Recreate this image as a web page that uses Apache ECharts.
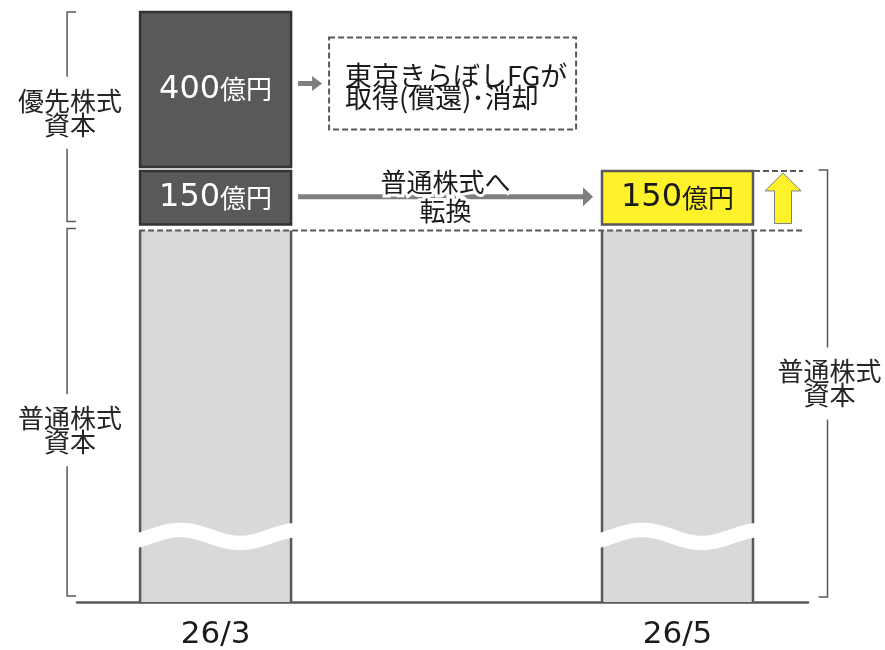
<!DOCTYPE html>
<html><head><meta charset="utf-8">
<script src="https://cdn.jsdelivr.net/npm/echarts@6/dist/echarts.min.js"></script>
<style>html,body{margin:0;padding:0;background:#fff}#c{width:885px;height:650px}</style>
</head><body><div id="c"></div>
<script>
// ---- data (億円) ----
const categories = ['26/3', '26/5'];
const commonStock = [935, 935];          // 普通株式資本 (axis broken, symbolic height)
const preferredConverted = [150, 0];     // 優先株式 → 普通株式へ転換
const convertedCommon = [0, 150];        // 転換後の普通株式
const preferredRedeemed = [400, 0];      // 東京きらぼしFGが取得(償還)・消却
const breakValue = 165;                  // where the wavy break crosses the common stock bar

// ---- build stacked segments ----
const order = [
  { key: 'common', name: '普通株式資本', values: commonStock },
  { key: 'pref150', name: '優先株式(転換)', values: preferredConverted },
  { key: 'conv', name: '普通株式へ転換', values: convertedCommon },
  { key: 'pref400', name: '優先株式(取得・消却)', values: preferredRedeemed }
];
const bases = categories.map(() => 0);
const segData = {};
order.forEach(s => {
  segData[s.key] = [];
  s.values.forEach((v, i) => {
    if (v > 0) { segData[s.key].push([i, bases[i], bases[i] + v, v]); bases[i] += v; }
  });
});
const yMax = Math.max(...bases);

const BAR_W = 151;
const HALF = (BAR_W + 2) / 2;
const CJK = "'Noto Sans CJK JP', sans-serif";
const styles = {
  common: { fill: '#d9d9d9', stroke: '#595959' },
  pref150: { fill: '#595959', stroke: '#333333', text: '#ffffff', gap: 6 },
  conv: { fill: '#fff22a', stroke: '#595959', text: '#1a1a1a', gap: 6 },
  pref400: { fill: '#595959', stroke: '#333333', text: '#ffffff', gap: 4 }
};

function barRenderer(key) {
  const st = styles[key];
  return function (params, api) {
    const ci = api.value(0), lo = api.value(1), hi = api.value(2), v = api.value(3);
    const pLo = api.coord([ci, lo]), pHi = api.coord([ci, hi]);
    const gap = lo > 0 ? st.gap : 0;
    const x = pLo[0] - BAR_W / 2, y = pHi[1], h = pLo[1] - pHi[1] - gap;
    const children = [];
    if (key === 'common') {
      children.push({ type: 'rect', shape: { x, y, width: BAR_W, height: h }, style: { fill: st.fill } });
      children.push({ type: 'polyline', shape: { points: [[x, y], [x, y + h]] }, style: { stroke: st.stroke, lineWidth: 2.5 } });
      children.push({ type: 'polyline', shape: { points: [[x + BAR_W, y], [x + BAR_W, y + h]] }, style: { stroke: st.stroke, lineWidth: 2.5 } });
      // wavy break
      const c = api.coord([ci, breakValue])[1];
      const L = pLo[0] - HALF, W = BAR_W + 2;
      const pts = [];
      for (let t = -0.04; t <= 1.041; t += 0.02) {
        pts.push([L + t * W, c - 6.5 * Math.sin(2 * Math.PI * (t - 0.075) / 0.78)]);
      }
      children.push({ type: 'polyline', shape: { points: pts }, style: { stroke: '#ffffff', lineWidth: 14.5, fill: null } });
    } else {
      children.push({ type: 'rect', shape: { x, y, width: BAR_W, height: h }, style: { fill: st.fill, stroke: st.stroke, lineWidth: 2.5 } });
      children.push({
        type: 'text', x: pLo[0], y: y + h / 2,
        style: {
          text: '{n|' + v + '}{c|億円}', align: 'center', verticalAlign: 'middle',
          rich: {
            n: { fontFamily: 'DejaVu Sans', fontSize: 32, fill: st.text, verticalAlign: 'middle' },
            c: { fontFamily: CJK, fontSize: 26, fill: st.text, verticalAlign: 'middle' }
          }
        }
      });
    }
    return { type: 'group', children };
  };
}

function hArrow(xa, xb, y, shaft, headL, headH, color) {
  const s = shaft / 2, h = headH / 2;
  return {
    type: 'polygon',
    shape: { points: [[xa, y - s], [xb - headL, y - s], [xb - headL, y - h], [xb, y], [xb - headL, y + h], [xb - headL, y + s], [xa, y + s]] },
    style: { fill: color }
  };
}
function bracket(x, y0, y1, dir) {
  return { type: 'polyline', shape: { points: [[x + 9 * dir, y0], [x, y0], [x, y1], [x + 9 * dir, y1]] }, style: { stroke: '#595959', lineWidth: 1.5, fill: null } };
}
function label(text, x, y) {
  return {
    type: 'text', x, y,
    style: { text, fontFamily: CJK, fontSize: 26, lineHeight: 24, fill: '#262626', align: 'center', verticalAlign: 'middle', backgroundColor: '#ffffff', padding: [12, 0] }
  };
}

function renderAnnotations(params, api) {
  const x0 = api.coord([0, 0])[0], x1 = api.coord([1, 0])[0];
  const yBase = api.coord([0, 0])[1];
  const yC0 = api.coord([0, commonStock[0]])[1];
  const yP150 = api.coord([0, commonStock[0] + preferredConverted[0]])[1];
  const yTop0 = api.coord([0, commonStock[0] + preferredConverted[0] + preferredRedeemed[0]])[1];
  const yTop1 = api.coord([1, commonStock[1] + convertedCommon[1]])[1];
  const b0L = x0 - HALF, b0R = x0 + HALF, b1L = x1 - HALF, b1R = x1 + HALF;
  const grey = '#7f7f7f';
  const children = [];
  // dashed reference lines
  children.push({ type: 'polyline', shape: { points: [[b0L, yC0], [b1R + 49, yC0]] }, style: { stroke: '#595959', lineWidth: 2, lineDash: [6, 3], fill: null } });
  children.push({ type: 'polyline', shape: { points: [[b1R, yTop1], [b1R + 49, yTop1]] }, style: { stroke: '#595959', lineWidth: 2, lineDash: [6, 3], fill: null } });
  // brackets
  const lx = b0L - 72;
  children.push(bracket(lx, yTop0, yC0 - 9, 1));
  children.push(label('優先株式\n資本', lx + 3, (yTop0 + yC0 - 9) / 2 - 4));
  children.push(bracket(lx, yC0 - 2, yBase - 6, 1));
  children.push(label('普通株式\n資本', lx + 3, (yC0 - 2 + yBase - 6) / 2 + 18));
  const rx = b1R + 73.5;
  children.push(bracket(rx, yTop1 - 1, yBase - 5, -1));
  children.push(label('普通株式\n資本', rx + 2, (yTop1 - 1 + yBase - 5) / 2));
  // redemption box + arrow
  const boxCy = (yTop0 + yP150) / 2 - 8;
  const boxL = b0R + 37, boxW = 247, boxH = 92;
  children.push(hArrow(b0R + 6, boxL - 7, boxCy, 5, 10, 15, grey));
  children.push({ type: 'rect', shape: { x: boxL, y: boxCy - boxH / 2, width: boxW, height: boxH }, style: { fill: null, stroke: '#595959', lineWidth: 2, lineDash: [6, 3] } });
  children.push({
    type: 'text', x: boxL + 16, y: boxCy + 3,
    style: { text: '東京きらぼしFGが\n取得(償還)･消却', fontFamily: CJK, fontSize: 27, lineHeight: 22, fill: '#1a1a1a', align: 'left', verticalAlign: 'middle' }
  });
  // conversion arrow
  const yConv = (yP150 + yC0 - 6) / 2 - 1;
  children.push(hArrow(b0R + 6, b1L - 8, yConv, 5, 10, 19, grey));
  children.push({
    type: 'text', x: (b0R + 6 + b1L - 8) / 2, y: yConv,
    style: { text: '普通株式へ\n転換', fontFamily: CJK, fontSize: 26, lineHeight: 29, fill: '#1a1a1a', stroke: '#ffffff', lineWidth: 6, align: 'center', verticalAlign: 'middle' }
  });
  // yellow up arrow
  const ax = x1 + 105.5, aTop = yTop1 + 2, aBot = yC0 - 7, hw = 18, sw = 8.5, hh = 18;
  children.push({
    type: 'polygon',
    shape: { points: [[ax, aTop], [ax + hw, aTop + hh], [ax + sw, aTop + hh], [ax + sw, aBot], [ax - sw, aBot], [ax - sw, aTop + hh], [ax - hw, aTop + hh]] },
    style: { fill: '#fff22a', stroke: grey, lineWidth: 1 }
  });
  return { type: 'group', children };
}

const chart = echarts.init(document.getElementById('c'), null, { renderer: 'canvas' });
const series = order.map(s => ({
  type: 'custom', name: s.name, renderItem: barRenderer(s.key), data: segData[s.key],
  encode: { x: 0, y: [1, 2] }, z: 2, clip: false
}));
series.push({ type: 'custom', name: 'annotations', renderItem: renderAnnotations, data: [[0, 0]], encode: { x: 0, y: 1 }, z: 3, clip: false, silent: true });

chart.setOption({
  animation: false,
  backgroundColor: '#ffffff',
  grid: { left: 77, right: 77, top: 12, bottom: 44 },
  xAxis: {
    type: 'value', min: -0.3, max: 1.2825,
    axisLine: { show: true, lineStyle: { color: '#595959', width: 2.5 } },
    axisTick: { show: false },
    splitLine: { show: false },
    axisLabel: {
      customValues: categories.map((c, i) => i),
      formatter: v => categories[Math.round(v)],
      fontFamily: 'DejaVu Sans', fontSize: 31, color: '#1a1a1a', margin: 17
    }
  },
  yAxis: { type: 'value', min: 0, max: yMax, show: false },
  series
});
</script></body></html>
